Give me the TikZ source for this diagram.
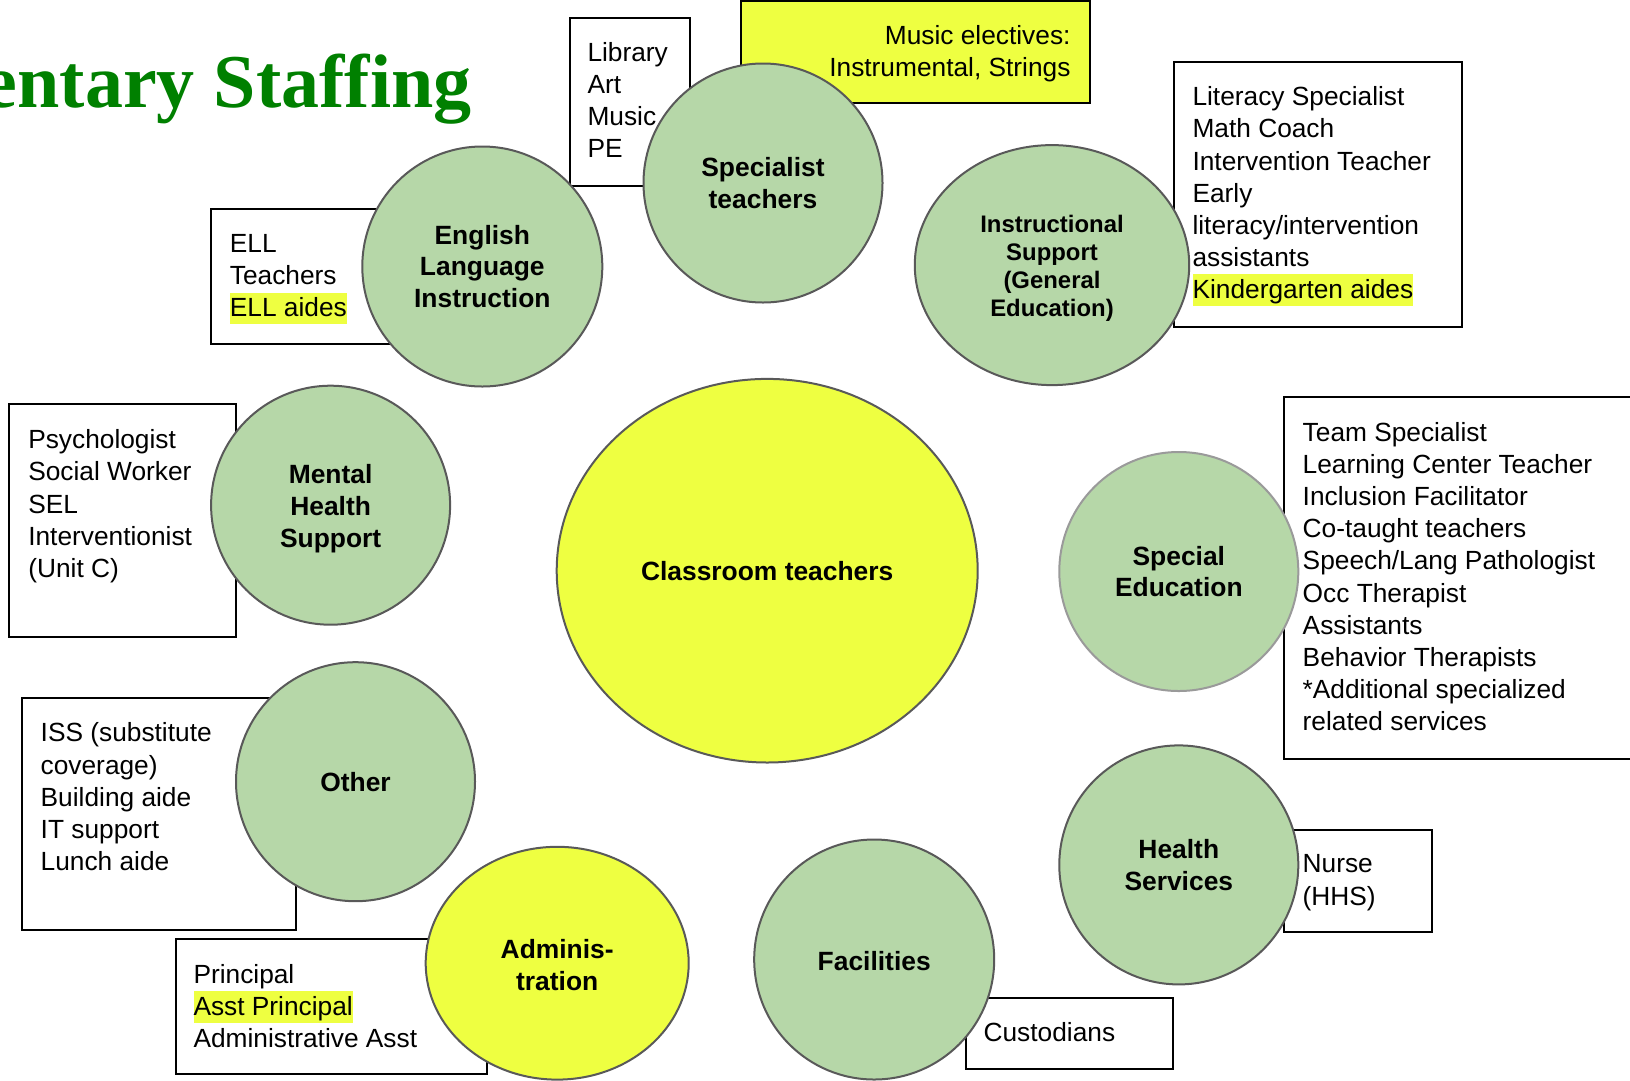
\documentclass[tikz,border=0pt]{standalone}
\usepackage{fontspec}
\setmainfont{Liberation Sans}
\newfontfamily\titlefont{Liberation Serif}
\usetikzlibrary{shapes.geometric}

\definecolor{leafgreen}{HTML}{B6D7A8}
\definecolor{marker}{HTML}{EEFF41}
\definecolor{ringgray}{HTML}{595959}
\definecolor{softgray}{HTML}{9A9A9A}
\definecolor{titlegreen}{HTML}{008000}

% highlighted words: tight yellow band around one line
\setlength{\fboxsep}{0pt}
\newcommand\markerstrut{\rule[-7.5pt]{0pt}{31.5pt}}
\newcommand\marked[1]{\colorbox{marker}{\markerstrut #1}}
% keep a fixed line pitch even when a band is taller than the line
\newcommand\fixedpitch{\lineskiplimit=-100pt\relax}

\tikzset{
  listbox/.style={draw=black, line width=2pt, fill=white, rectangle,
    inner sep=0pt, outer sep=0pt, anchor=north west},
  listtext/.style={anchor=north west, inner sep=0pt, align=left,
    font=\fontsize{26.3pt}{32.1pt}\selectfont\fixedpitch},
  roundbase/.style={ellipse, draw=ringgray, line width=2pt, inner sep=0pt,
    outer sep=0pt, align=center,
    font=\bfseries\fontsize{26.4pt}{31.8pt}\selectfont},
  greenring/.style={roundbase, fill=leafgreen},
  yellowring/.style={roundbase, fill=marker},
  ringtext/.style={inner sep=0pt, align=center,
    font=\bfseries\fontsize{26.4pt}{31.8pt}\selectfont},
}

\begin{document}
\begin{tikzpicture}[x=1pt, y=-1pt]
  \useasboundingbox (0,0) rectangle (1630,1080);
  \fill[white] (0,0) rectangle (1630,1080);

  % title
  \node[anchor=base east, inner sep=0pt, text=titlegreen,
        font=\titlefont\bfseries\fontsize{76pt}{80pt}\selectfont]
        (title) at (471.7,107.3) {entary Staffing};

  % list boxes
  \node[listbox, minimum width=120.6pt, minimum height=168.4pt] (libbox) at (569.6,17.7) {};
  \node[listbox, fill=marker, minimum width=349.2pt, minimum height=101.9pt] (musicbox) at (741.2,1) {};
  \node[listbox, minimum width=189pt, minimum height=135.2pt] (ellbox) at (211,208.9) {};
  \node[listbox, minimum width=287.9pt, minimum height=265pt] (litbox) at (1173.6,62.4) {};
  \node[listbox, minimum width=226.6pt, minimum height=232.8pt] (psybox) at (9.4,404.4) {};
  \node[listbox, minimum width=361.2pt, minimum height=361.7pt] (teambox) at (1283.8,397.1) {};
  \node[listbox, minimum width=274.5pt, minimum height=232.9pt] (issbox) at (21.8,697.5) {};
  \node[listbox, minimum width=310.8pt, minimum height=135.1pt] (princbox) at (175.7,938.7) {};
  \node[listbox, minimum width=148.6pt, minimum height=102.9pt] (nursebox) at (1283.8,829.5) {};
  \node[listbox, minimum width=206.9pt, minimum height=70.7pt] (custbox) at (965.7,997.9) {};

  % list texts
  \node[listtext] (libtext) at (587.3,38.5) {\strut Library\\Art\\Music\\PE};
  \node[listtext, anchor=north east, align=right] (musictext) at (1070.7,21.8)
        {\strut Music electives:\\Instrumental, Strings};
  \node[listtext] (elltext) at (229.7,229.7) {\strut ELL\\Teachers\\\marked{ELL aides}};
  \node[listtext] (littext) at (1192.3,83.2)
        {\strut Literacy Specialist\\Math Coach\\Intervention Teacher\\Early\\literacy/intervention\\assistants\\\marked{Kindergarten aides}};
  \node[listtext] (psytext) at (28.1,426.2)
        {\strut Psychologist\\Social Worker\\SEL\\Interventionist\\(Unit C)};
  \node[listtext] (teamtext) at (1302.5,418.9)
        {\strut Team Specialist\\Learning Center Teacher\\Inclusion Facilitator\\Co-taught teachers\\Speech/Lang Pathologist\\Occ Therapist\\Assistants\\Behavior Therapists\\*Additional specialized\\related services};
  \node[listtext] (isstext) at (40.5,719.3)
        {\strut ISS (substitute\\coverage)\\Building aide\\IT support\\Lunch aide};
  \node[listtext] (princtext) at (193.3,960.5)
        {\strut Principal\\\marked{Asst Principal}\\Administrative Asst};
  \node[listtext] (nursetext) at (1302.5,850.3) {\strut Nurse\\(HHS)};
  \node[listtext] (custtext) at (983.4,1018.7) {\strut Custodians};

  % staff groups
  \node[greenring, minimum width=239pt, minimum height=239pt] (specialist) at (763,183) {Specialist\\teachers};
  \node[greenring, minimum width=240pt, minimum height=240pt] (english) at (482.3,266.5) {English\\Language\\Instruction};
  \node[greenring, minimum width=274.4pt, minimum height=240pt] (instr) at (1052,265.1) {};
  \node[ringtext, font=\bfseries\fontsize{23.9pt}{28.1pt}\selectfont] (instrtext) at (1052,268.3)
        {Instructional\\Support\\(General\\Education)};
  \node[greenring, minimum width=239pt, minimum height=239pt] (mental) at (330.6,505.2) {};
  \node[ringtext] (mentaltext) at (330.6,508.4) {Mental\\Health\\Support};
  \node[yellowring, minimum width=421pt, minimum height=383.6pt] (classroom) at (767.2,570.7) {Classroom teachers};
  \node[greenring, draw=softgray, minimum width=239pt, minimum height=239pt] (sped) at (1178.8,571.5) {Special\\Education};
  \node[greenring, minimum width=239pt, minimum height=239pt] (other) at (355.5,781.7) {Other};
  \node[yellowring, minimum width=263pt, minimum height=232.8pt] (admin) at (557.2,963.2) {};
  \node[ringtext] (admintext) at (557.2,965) {Adminis-\\tration};
  \node[greenring, minimum width=240pt, minimum height=240pt] (facilities) at (874.2,959.5) {};
  \node[ringtext] (factext) at (874.2,961.5) {Facilities};
  \node[greenring, minimum width=239pt, minimum height=239pt] (health) at (1178.8,864.9) {Health\\Services};
\end{tikzpicture}
\end{document}
